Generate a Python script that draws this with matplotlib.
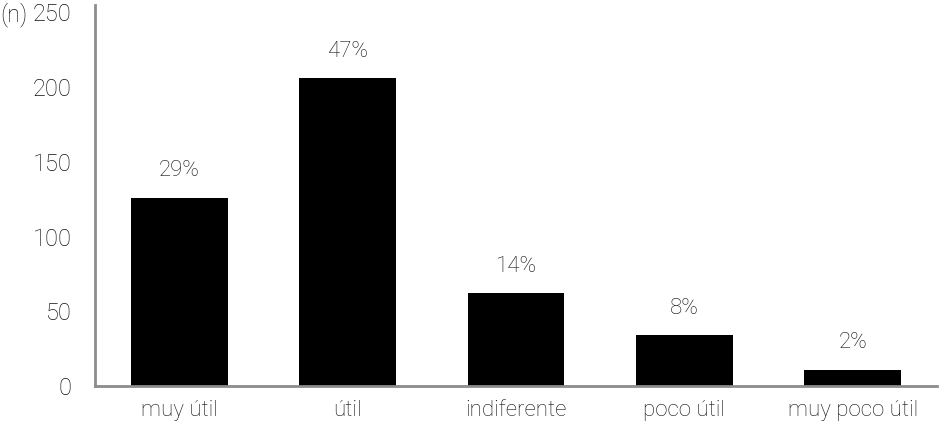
import matplotlib
matplotlib.use('Agg')
import matplotlib.pyplot as plt
from matplotlib import font_manager

categories = ['muy útil', 'útil', 'indiferente', 'poco útil', 'muy poco útil']
counts = [126, 206, 62, 34, 11]
percent_labels = ['29%', '47%', '14%', '8%', '2%']
yticks = [0, 50, 100, 150, 200, 250]

names = {f.name for f in font_manager.fontManager.ttflist}
family = [n for n in ['Liberation Sans Narrow', 'Roboto', 'DejaVu Sans'] if n in names]
plt.rcParams['font.family'] = family

txt = dict(fontweight='light', color='#111111')

fig = plt.figure(figsize=(9.47, 4.28), dpi=100)
ax = fig.add_axes([95/947, 1 - 386/428, (937 - 95)/947, (386 - 5)/428])

x = range(len(categories))
ax.bar(x, counts, width=0.575, color='black', zorder=2)

for xi, v, lab in zip(x, counts, percent_labels):
    ax.text(xi, v + 11, lab, ha='center', va='bottom', fontsize=16, **txt)

ax.set_xlim(-0.5, len(categories) - 0.5)
ax.set_ylim(0, 255)
ax.set_yticks(yticks)
ax.set_yticklabels([str(t) for t in yticks], fontsize=17, **txt)
ax.set_xticks(list(x))
ax.set_xticklabels(categories, fontsize=16, **txt)
ax.tick_params(axis='both', length=0)
ax.tick_params(axis='y', pad=17)
ax.tick_params(axis='x', pad=10)

for s in ['top', 'right']:
    ax.spines[s].set_visible(False)
for s in ['left', 'bottom']:
    ax.spines[s].set_color('#8c8c8c')
    ax.spines[s].set_linewidth(2)

fig.text(0, 1 - 15/428, '(n)', ha='left', va='center', fontsize=17, **txt)

fig.savefig('out.png', dpi=100)
